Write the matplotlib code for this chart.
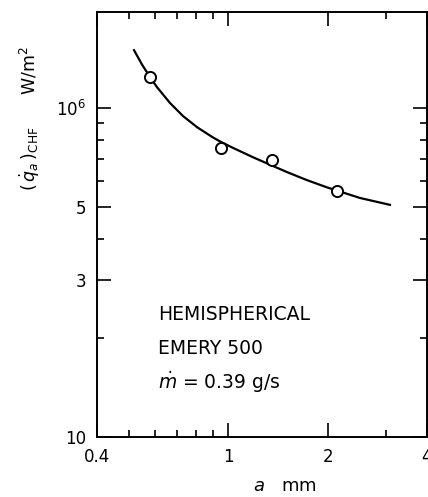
import matplotlib
matplotlib.use('Agg')
import matplotlib.pyplot as plt
from matplotlib.ticker import FixedLocator, NullFormatter

# measured points: radius a (mm) vs CHF (W/m2)
a_pts = [0.579, 0.950, 1.357, 2.134]
q_pts = [1.24e6, 0.756e6, 0.695e6, 0.56e6]

# correlation curve
a_curve = [0.518, 0.548, 0.579, 0.608, 0.666, 0.729, 0.804, 0.899, 0.944, 1.033,
           1.188, 1.337, 1.506, 1.731, 1.992, 2.507, 3.09]
q_curve = [1.50e6, 1.355e6, 1.243e6, 1.158e6, 1.036e6, 0.946e6, 0.875e6, 0.814e6,
           0.792e6, 0.757e6, 0.709e6, 0.673e6, 0.639e6, 0.604e6, 0.574e6, 0.533e6, 0.508e6]

x_major = [0.4, 1, 2, 4]
x_major_labels = ['0.4', '1', '2', '4']
x_minor = [0.5, 0.6, 0.7, 0.8, 0.9, 3]
y_major = [1e5, 3e5, 5e5, 1e6]
y_major_labels = ['10', '3', '5', r'$10^6$']
y_minor = [2e5, 4e5, 6e5, 7e5, 8e5, 9e5]

fig = plt.figure(figsize=(4.28, 4.97), dpi=100)
ax = fig.add_axes([0.2266, 0.1207, 0.771, 0.8552])

ax.plot(a_curve, q_curve, color='black', lw=1.6)
ax.plot(a_pts, q_pts, 'o', mfc='white', mec='black', ms=8, mew=1.4, zorder=3)

ax.set_xscale('log')
ax.set_yscale('log')
ax.set_xlim(0.4, 4)
ax.set_ylim(1e5, 1.96e6)

ax.xaxis.set_major_locator(FixedLocator(x_major))
ax.xaxis.set_minor_locator(FixedLocator(x_minor))
ax.set_xticklabels(x_major_labels)
ax.xaxis.set_minor_formatter(NullFormatter())
ax.yaxis.set_major_locator(FixedLocator(y_major))
ax.yaxis.set_minor_locator(FixedLocator(y_minor))
ax.set_yticklabels(y_major_labels)
ax.yaxis.set_minor_formatter(NullFormatter())

ax.tick_params(which='both', direction='in', top=True, right=True, width=1.2)
ax.tick_params(which='major', length=10, labelsize=12, pad=8)
ax.tick_params(which='minor', length=5)
for s in ax.spines.values():
    s.set_linewidth(1.4)

ax.text(0.612, 2.35e5, 'HEMISPHERICAL', fontsize=13.5, va='center')
ax.text(0.612, 1.864e5, 'EMERY 500', fontsize=13.5, va='center')
ax.text(0.612, 1.47e5, r'$\dot{m}$ = 0.39 g/s', fontsize=13.5, va='center')

fig.text(0.665, 0.005, r'$a$   mm', fontsize=13, ha='center', va='bottom')
fig.text(0.07, 0.763, r'$(\,\dot{q}_a\,)_{\rm CHF}$      W/m$^2$', fontsize=12.5,
         rotation=90, ha='center', va='center')

fig.savefig('out.png', dpi=100)
